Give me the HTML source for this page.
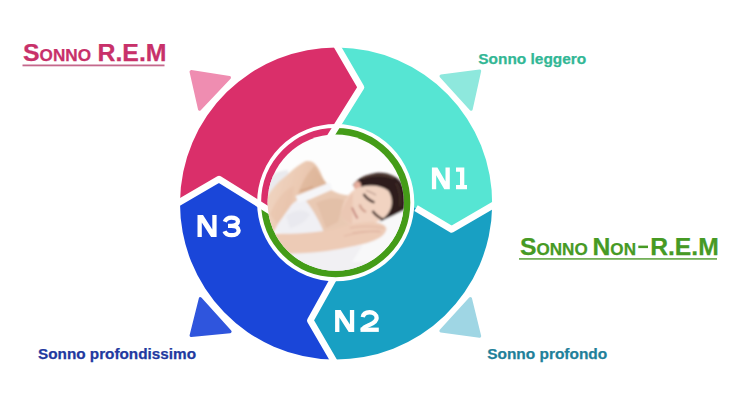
<!DOCTYPE html>
<html><head><meta charset="utf-8">
<style>
html,body{margin:0;padding:0;background:#fff;width:739px;height:410px;overflow:hidden}
svg{display:block}
text{font-family:"Liberation Sans",sans-serif;font-weight:bold}
</style></head><body>
<svg width="739" height="410" viewBox="0 0 739 410">
<defs>
  <clipPath id="ph"><circle cx="335.7" cy="202.6" r="68.1"/></clipPath>
  <linearGradient id="armg" x1="0" y1="0" x2="1" y2="0.3"><stop offset="0" stop-color="#f1d8c6"/><stop offset="0.6" stop-color="#ebc9b2"/><stop offset="1" stop-color="#e0b99e"/></linearGradient>
  <filter id="soft" x="-10%" y="-10%" width="120%" height="120%"><feGaussianBlur stdDeviation="0.9"/></filter>
</defs>
<rect width="739" height="410" fill="#fff"/>

<!-- triangles -->
<path d="M191.1 71.7 L229.4 77.6 L199.6 109.1 Z" fill="#ef8db1" stroke="#ef8db1" stroke-width="3.2" stroke-linejoin="round"/>
<path d="M441.1 76.2 L479.6 71.0 L471.1 109.1 Z" fill="#8ee8dd" stroke="#8ee8dd" stroke-width="3.2" stroke-linejoin="round"/>
<path d="M200.4 298.7 L230.0 331.6 L191.2 335.5 Z" fill="#2f55dd" stroke="#2f55dd" stroke-width="3.2" stroke-linejoin="round"/>
<path d="M470.4 298.7 L479.6 336.1 L441.0 330.9 Z" fill="#9fd6e4" stroke="#9fd6e4" stroke-width="3.2" stroke-linejoin="round"/>

<!-- sectors -->
<path d="M276 214.7 L259 204.1 L219 179.1 L180 202.1 A156 156 0 0 1 337.7 47.5 L361 87.3 L336.5 126.5 L325.9 143.5 Z" fill="#da2f6a"/>
<path d="M325.9 143.5 L336.5 126.5 L361 87.3 L337.7 47.5 A156 156 0 0 1 492.2 205.6 L451.6 229.4 L413.9 207 L396.6 197 Z" fill="#56e5d3"/>
<path d="M396.6 197 L413.9 207 L451.6 229.4 L492.2 205.6 A156 156 0 0 1 333 359.5 L310.3 320.5 L332 281.5 L341.9 264.1 Z" fill="#18a0c3"/>
<path d="M341.9 264.1 L332 281.5 L310.3 320.5 L333 359.5 A156 156 0 0 1 180 202.1 L219 179.1 L259 204.1 L276 214.7 Z" fill="#1a46d9"/>
<circle cx="335.7" cy="202.6" r="75.5" fill="#449c18"/>
<path d="M336 204 L276 214.7 L259 204.1 A77.5 77.5 0 0 1 336.5 126.5 L325.9 143.5 Z" fill="#da2f6a"/>

<!-- white separators -->
<g fill="none" stroke="#fff" stroke-width="6.6" stroke-linejoin="round">
  <polyline points="335.8,44 361,87.3 336.5,126.5 320.6,151.9"/>
  <polyline points="495,204.2 451.6,229.4 416,208.2"/>
  <polyline points="335,363 310.3,320.5 333.2,279.4"/>
  <polyline points="177,203.6 219,179.1 259,204.1 284.4,220"/>
</g>
<circle cx="335.7" cy="202.6" r="76.6" fill="none" stroke="#fff" stroke-width="4"/>

<!-- photo -->
<g clip-path="url(#ph)">
  <rect x="260" y="130" width="160" height="150" fill="#fdfdfd"/>
  <g filter="url(#soft)">
    <!-- grey area left -->
    <path d="M268 180 Q276 170 288 170 L290 194 L268 206 Z" fill="#eaeaee"/>
    <!-- upper arm / shoulder -->
    <path d="M262 202 L269.5 193 C273 187.5 278 182 284 177.5 C290 173 297 165 306 161 C310 160.5 313 161.5 315 164 C318 167 320 171 322 176 C324 180 326 183.5 329 185.5 L331 189 L300 198 L291.5 205 L278 224 L274 232 L262 234 Z" fill="url(#armg)"/>
    <!-- arm shadow -->
    <path d="M298 194 C302 182 308 172 315 166 C319 174 323 181 329 186 L300 199 Z" fill="#d8aa8c" opacity="0.45"/><path d="M300 191 Q307 189 313 187" stroke="#c99474" stroke-width="1.4" fill="none" opacity="0.6"/>
    <path d="M270 214 C276 200 284 190 294 186 L292 204 L280 228 Z" fill="#e4b9a0" opacity="0.35"/>
    <!-- white top -->
    <path d="M275 232 L278 224 L291.5 205 L300 198 L309 198 C315 210 321 222 326 235 L300 238 Z" fill="#f0f0f4"/>
    <path d="M286 216 C294 210 302 208 310 214 C306 222 298 226 290 228 Z" fill="#e2e2e9" opacity="0.5"/>
    <!-- chest/neck skin -->
    <path d="M306 201 L331 190 C337 193.5 343 195 350 195.5 L358.8 193 L356 225 L336 232 L325 235 C320 222 314 211 306 201 Z" fill="#e9c9b3"/>
    <path d="M316 203 C326 198 336 197 344 200 L338 222 L326 228 C322 218 320 210 316 203 Z" fill="#dab096" opacity="0.35"/>
    <!-- strap -->
    <path d="M297 199.5 L331 186" stroke="#f5f5f8" stroke-width="7.5" fill="none"/>
    <!-- sheet bottom -->
    <path d="M262 249 Q330 253 410 238 L410 280 L262 280 Z" fill="#f1f0f3"/>
    <!-- pillow -->
    <path d="M378 221 C388 216 397 211 406 206 L410 262 L352 262 L366 240 Z" fill="#f8f8f9"/>
    <!-- hair -->
    <path d="M353 185 C357 179 365 174.5 376 173 C388 172 397 176 402 184 C407 193 408.5 202 406 209 L393 215.5 L380 221.5 C386 214 392.5 204 389 192 C383 186 372 184.5 356 189 Z" fill="#2f1f1b"/>
    <path d="M362 178 C372 174 386 174 394 178" stroke="#6e544a" stroke-width="1.4" fill="none" opacity="0.7"/><path d="M396 183 C400 190 401 198 400 206" stroke="#5a4038" stroke-width="1.2" fill="none" opacity="0.6"/>
    <!-- ear -->
    <ellipse cx="357.5" cy="186" rx="3.6" ry="4.8" fill="#e6ad9c"/>
    <!-- face -->
    <path d="M341 213 C343 201 349 192 357 188 C367 184 380 184.5 388 190.5 C393 197 393 206 389 212 C385 219 376 224.5 358 226 C348 225 341 220 341 213 Z" fill="#f1d3c1"/>
    <path d="M341 213 C344 204 348 197 353 193 L352 224 C346 222 341 219 341 213 Z" fill="#e6bba5" opacity="0.5"/>
    <!-- forearm and hand -->
    <path d="M262 233 C290 235 315 233 335 229 C348 224 360 222 372 222 C381 222.5 386 225 386.5 229 C385 236 377 240 367 243 C351 247 339 249 327 251 C305 254 285 254 262 252 Z" fill="#edcbb6"/>
    <path d="M344 236 C356 233 368 231 380 231" stroke="#d9a996" stroke-width="1" fill="none" opacity="0.6"/>
    <!-- eyes -->
    <path d="M363.5 194 Q368 200.5 374.5 202.5" stroke="#3a241e" stroke-width="2.3" fill="none"/>
    <path d="M366 190.5 Q371 192 376 195" stroke="#8a6a5e" stroke-width="1" fill="none" opacity="0.7"/>
    <path d="M372.5 211 Q377.5 217.5 383.5 219.5" stroke="#3a241e" stroke-width="2.3" fill="none"/>
    <path d="M359.5 204.5 Q361.5 210 366 212" stroke="#c99684" stroke-width="2.2" fill="none" opacity="0.8"/>
    <path d="M352 207.5 Q354.5 213.5 357.5 218.5" stroke="#c4837a" stroke-width="1.9" fill="none"/>
    <path d="M350 228 C360 226 372 226 384 228" stroke="#d8a594" stroke-width="0.9" fill="none" opacity="0.7"/>
    <path d="M352 233 C362 231 372 231 381 232" stroke="#d8a594" stroke-width="0.9" fill="none" opacity="0.6"/>
  </g>
</g>

<!-- labels N -->
<path d="M431.90 189.30 L431.90 167.50 L437.40 167.50 L445.50 181.55 L445.50 167.50 L449.80 167.50 L449.80 189.30 L444.30 189.30 L436.20 175.25 L436.20 189.30 Z" fill="#fff"/>
<path d="M456 167.5 L464.3 167.5 L464.3 185 L467 185 L467 189.3 L456 189.3 L456 185 L460 185 L460 171.8 L456 171.8 Z" fill="#fff"/>
<path d="M197.50 236.90 L197.50 215.10 L203.00 215.10 L212.30 229.60 L212.30 215.10 L216.60 215.10 L216.60 236.90 L211.10 236.90 L201.80 222.40 L201.80 236.90 Z" fill="#fff"/>
<path d="M224.8 221.8 C225.8 219 228.5 217.65 231.5 217.65 C235 217.65 237.9 219.2 237.9 221.6 C237.9 224.2 235.2 225.8 231.5 225.8 L228 225.8 M231.5 225.8 C235.6 225.8 238.65 227.6 238.65 230.4 C238.65 233.3 235.5 235.15 231.5 235.15 C228.2 235.15 225.5 233.9 224.5 231.2" fill="none" stroke="#fff" stroke-width="4.3"/>
<path d="M335.10 331.90 L335.10 310.10 L340.60 310.10 L349.90 324.60 L349.90 310.10 L354.20 310.10 L354.20 331.90 L348.70 331.90 L339.40 317.40 L339.40 331.90 Z" fill="#fff"/>
<path d="M362.8 317.2 C363.3 314 366 312.25 369.6 312.25 C373.6 312.25 376.65 314.6 376.65 317.9 C376.65 321 374 322.7 370 324.6 C365.5 326.7 362.65 327.8 362.65 330" fill="none" stroke="#fff" stroke-width="4.3"/>
<path d="M360.5 327.6 L378.8 327.6 L378.8 331.9 L360.5 331.9 Z" fill="#fff"/>

<!-- titles -->
<g fill="#c8316a" stroke="#c8316a" stroke-width="0.25">
<text x="23" y="61.1" textLength="68" lengthAdjust="spacingAndGlyphs"><tspan font-size="24">S</tspan><tspan font-size="16.6">ONNO</tspan></text>
<text x="97.5" y="61.1" font-size="24" textLength="69" lengthAdjust="spacingAndGlyphs">R.E.M</text>
</g>
<rect x="22.5" y="64.5" width="142" height="1.8" fill="#c4688c"/>
<g fill="#469a24" stroke="#469a24" stroke-width="0.25">
<text x="520" y="254.8" textLength="116" lengthAdjust="spacingAndGlyphs"><tspan font-size="24">S</tspan><tspan font-size="16.6">ONNO </tspan><tspan font-size="24">N</tspan><tspan font-size="16.6">ON</tspan></text>
<text x="650.2" y="254.8" font-size="24" textLength="68.5" lengthAdjust="spacingAndGlyphs">R.E.M</text>
</g>
<rect x="638.3" y="245.6" width="9.7" height="2.5" fill="#469a24"/>
<rect x="519" y="258" width="198" height="1.8" fill="#74b05a"/>

<!-- sub labels -->
<text x="478.3" y="64.2" font-size="14.5" fill="#32b795" stroke="#32b795" stroke-width="0.25" textLength="108" lengthAdjust="spacingAndGlyphs">Sonno leggero</text>
<text x="487.2" y="359.2" font-size="14.5" fill="#1f809a" stroke="#1f809a" stroke-width="0.25" textLength="120" lengthAdjust="spacingAndGlyphs">Sonno profondo</text>
<text x="38" y="359.2" font-size="14.5" fill="#22399f" stroke="#22399f" stroke-width="0.25" textLength="158" lengthAdjust="spacingAndGlyphs">Sonno profondissimo</text>
</svg>
</body></html>
